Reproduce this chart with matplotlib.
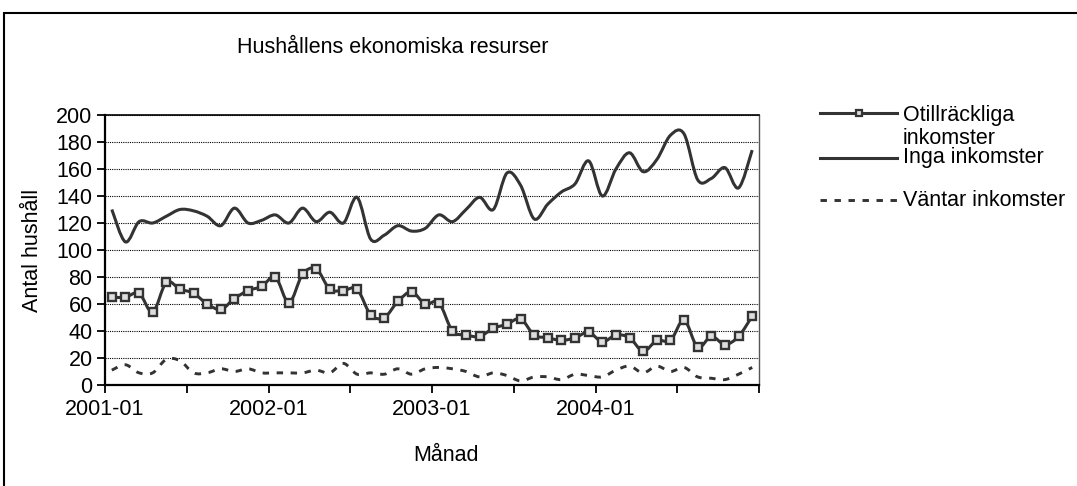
import numpy as np
import matplotlib.pyplot as plt
from matplotlib.path import Path
from matplotlib.patches import PathPatch, Rectangle
from matplotlib.lines import Line2D

plt.rcParams['font.family'] = ['Liberation Sans', 'DejaVu Sans']

# monthly categories 2001-01 .. 2004-12
months = [f"{y}-{m:02d}" for y in range(2001, 2005) for m in range(1, 13)]

otillrackliga = [65, 65, 68, 54, 76, 71, 68, 60, 56, 64, 70, 73,
                 80, 61, 82, 86, 71, 70, 71, 52, 50, 62, 69, 60,
                 61, 40, 37, 36, 42, 45, 49, 37, 35, 33, 35, 39,
                 32, 37, 35, 25, 33, 33, 48, 28, 36, 30, 36, 51]
inga = [130, 106, 121, 120, 125, 130, 129, 125, 118, 131, 120, 122,
        126, 120, 131, 121, 128, 120, 139, 108, 111, 118, 114, 116,
        126, 121, 130, 139, 130, 157, 148, 123, 134, 143, 149, 166,
        140, 160, 172, 158, 167, 185, 186, 152, 153, 161, 146, 174]
vantar = [11, 15, 9, 9, 19, 18, 9, 9, 12, 10, 12, 9,
          9, 9, 9, 11, 9, 16, 8, 9, 8, 12, 8, 12,
          13, 12, 10, 6, 9, 7, 3, 6, 6, 4, 8, 7,
          6, 11, 14, 9, 14, 10, 13, 6, 5, 4, 8, 13]

series_names = ["Otillräckliga\ninkomster", "Inga inkomster", "Väntar inkomster"]

COL = '#333333'
FS = 15.5


def smooth_path(values):
    # Excel-like smoothed line: cubic bezier through every point
    pts = np.column_stack([np.arange(len(values)), np.asarray(values, float)])
    n = len(pts)
    verts = [pts[0]]
    codes = [Path.MOVETO]
    for i in range(n - 1):
        p0 = pts[i - 1] if i > 0 else pts[i]
        p1 = pts[i]
        p2 = pts[i + 1]
        p3 = pts[i + 2] if i + 2 < n else pts[i + 1]
        verts += [p1 + (p2 - p0) / 6, p2 - (p3 - p1) / 6, p2]
        codes += [Path.CURVE4] * 3
    return Path(verts, codes)


W, H = 1077, 486
fig = plt.figure(figsize=(W / 100, H / 100), dpi=100)
ax = fig.add_axes([105 / W, 1 - 385 / H, 654 / W, 270 / H])

# outer chart frame
fig.add_artist(Rectangle((4 / W, -0.1), 1.2, 1 - 13 / H + 0.1,
                         transform=fig.transFigure, fill=False, lw=1.5, ec='black'))

x = np.arange(len(months))
ax.add_patch(PathPatch(smooth_path(otillrackliga), fill=False, ec=COL, lw=2.2, zorder=3))
ax.plot(x, otillrackliga, ls='none', marker='s', ms=5.5, mfc='#dedede', mec=COL, mew=1.7, zorder=4)
ax.add_patch(PathPatch(smooth_path(inga), fill=False, ec=COL, lw=2.2, zorder=3))
ax.add_patch(PathPatch(smooth_path(vantar), fill=False, ec=COL, lw=2.1,
                       ls=(0, (2.2, 2.6)), zorder=3))

ax.set_xlim(-0.5, len(months) - 0.5)
ax.set_ylim(0, 200)
ax.set_yticks(range(0, 201, 20))
xt = np.arange(-0.5, len(months), 6)
ax.set_xticks(xt)
ax.set_xticklabels([months[int(t + 0.5)] if k % 2 == 0 and k < 8 else '' for k, t in enumerate(xt)])
ax.tick_params(direction='out', length=6, width=1.3, labelsize=FS, color='black')
ax.tick_params(axis='x', pad=4)
ax.tick_params(axis='y', pad=3)
ax.yaxis.grid(True, ls=(0, (1, 1)), color='black', lw=0.8)
ax.set_axisbelow(True)
for s in ['left', 'bottom']:
    ax.spines[s].set_linewidth(1.6)
ax.spines['top'].set_linewidth(1.2)
ax.spines['right'].set_linewidth(1.0)
ax.spines['right'].set_color('#555555')

fig.text(393 / W, 1 - 47 / H, "Hushållens ekonomiska resurser", ha='center', va='center', fontsize=FS)
fig.text(33 / W, 1 - 250 / H, "Antal hushåll", rotation=90, ha='center', va='center', fontsize=FS)
fig.text(446 / W, 1 - 455 / H, "Månad", ha='center', va='center', fontsize=FS)

# legend drawn by hand, like the Excel one
lx0, lx1, tx = 820 / W, 897 / W, 903 / W
y1, y2, y3 = 1 - 113 / H, 1 - 158 / H, 1 - 200 / H
fig.add_artist(Line2D([lx0, lx1], [y1, y1], color=COL, lw=2.2))
fig.add_artist(Line2D([(lx0 + lx1) / 2], [y1], ls='none', marker='s', ms=4.5,
                      mfc='#dedede', mec=COL, mew=1.6))
fig.add_artist(Line2D([lx0, lx1], [y2, y2], color=COL, lw=2.2))
fig.add_artist(Line2D([lx0, lx1], [y3, y3], color=COL, lw=2.1, ls=(0, (2.2, 2.6))))
top, bottom = series_names[0].split("\n")
fig.text(tx, 1 - 115 / H, top, va='center', fontsize=FS)
fig.text(tx, 1 - 138 / H, bottom, va='center', fontsize=FS)
fig.text(tx, 1 - 158 / H, series_names[1], va='center', fontsize=FS)
fig.text(tx, 1 - 200 / H, series_names[2], va='center', fontsize=FS)

fig.savefig("out.png", dpi=100)
